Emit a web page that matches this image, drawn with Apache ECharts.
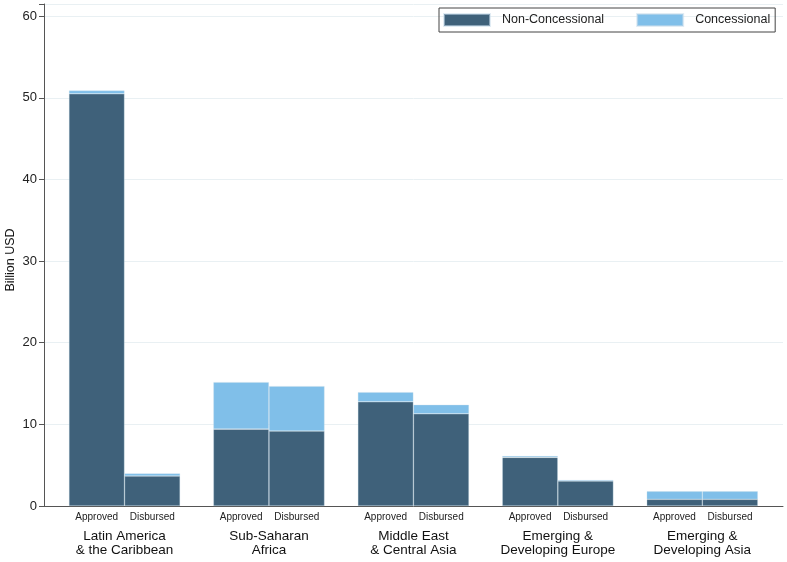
<!DOCTYPE html>
<html>
<head>
<meta charset="utf-8">
<script src="https://cdn.jsdelivr.net/npm/echarts@6/dist/echarts.min.js"></script>
<style>html,body{margin:0;padding:0;background:#fff;}#c{width:787px;height:562px;}</style>
</head>
<body>
<div id="c"></div>
<script>
const regions = ['Latin America\n& the Caribbean', 'Sub-Saharan\nAfrica', 'Middle East\n& Central Asia', 'Emerging &\nDeveloping Europe', 'Emerging &\nDeveloping Asia'];
const approvedNonConc = [50.5, 9.42, 12.77, 5.96, 0.82];
const approvedConc = [0.4, 5.76, 1.18, 0.16, 0.98];
const disbursedNonConc = [3.67, 9.18, 11.3, 3.06, 0.82];
const disbursedConc = [0.33, 5.51, 1.1, 0.12, 0.98];
const subLabels = ['Approved', 'Disbursed'];
const yTicks = { min: 0, max: 61.5, interval: 10 };

const DARK = '#3f617a';
const LIGHT = '#80bfe9';
const FONT = 'Liberation Sans, Arial, sans-serif';

const chart = echarts.init(document.getElementById('c'), null, { renderer: 'canvas' });
const barStyle = c => ({ color: c, borderColor: 'rgba(200,220,235,0.55)', borderWidth: 0.6 });

chart.setOption({
  animation: false,
  textStyle: { fontFamily: FONT },
  legend: {
    data: ['Non-Concessional', 'Concessional'],
    left: 439, top: 8, width: 420,
    orient: 'horizontal',
    padding: [5, 5, 5, 4],
    borderColor: '#444', borderWidth: 1,
    itemWidth: 46, itemHeight: 12, itemGap: 32,
    icon: 'rect',
    textStyle: { fontSize: 12.5, color: '#222', fontFamily: FONT, padding: [0, 0, 0, 7] }
  },
  grid: [
    { left: 44, right: 4, top: 4, bottom: 56, outerBoundsMode: 'none', containLabel: false },
    { left: 52.3, right: 12.5, top: 4, bottom: 56, outerBoundsMode: 'none', containLabel: false }
  ],
  xAxis: [
    { type: 'category', gridIndex: 0, data: [''], axisLine: { lineStyle: { color: '#555', width: 1 } },
      axisTick: { show: false }, axisLabel: { show: false }, splitLine: { show: false } },
    { type: 'category', gridIndex: 1, data: regions,
      axisLine: { show: false }, axisTick: { show: false },
      axisLabel: {
        interval: 0, margin: 0, color: '#111',
        formatter: v => {
          const parts = v.split('\n');
          return '{s|' + subLabels[0] + '}{s|' + subLabels[1] + '}\n' + parts.map(p => '{g|' + p + '}').join('\n');
        },
        rich: {
          s: { width: 55.6, align: 'center', fontSize: 10, lineHeight: 23, color: '#222', fontFamily: FONT },
          g: { fontSize: 13.5, lineHeight: 14, color: '#111', fontFamily: FONT, align: 'center' }
        }
      } }
  ],
  yAxis: [
    { type: 'value', gridIndex: 0, min: yTicks.min, max: yTicks.max, interval: yTicks.interval,
      name: 'Billion USD', nameLocation: 'middle', nameGap: 27, nameRotate: 90, nameMoveOverlap: false,
      nameTextStyle: { fontSize: 12.5, color: '#111', fontFamily: FONT, padding: [0, 10, 0, 0] },
      axisLine: { show: true, lineStyle: { color: '#555', width: 1 } },
      axisTick: { show: true, length: 5, lineStyle: { color: '#555' } },
      axisLabel: { fontSize: 13, color: '#222', margin: 7, fontFamily: FONT,
        formatter: v => (v % 10 === 0 ? String(v) : '') },
      splitLine: { show: true, lineStyle: { color: '#e9f0f3', width: 1 } } },
    { type: 'value', gridIndex: 1, min: yTicks.min, max: yTicks.max, interval: yTicks.interval, show: false,
      splitLine: { show: false } }
  ],
  series: [
    { name: 'Non-Concessional', type: 'bar', xAxisIndex: 1, yAxisIndex: 1, stack: 'A', data: approvedNonConc,
      barWidth: 55.6, barGap: '0%', itemStyle: barStyle(DARK) },
    { name: 'Concessional', type: 'bar', xAxisIndex: 1, yAxisIndex: 1, stack: 'A', data: approvedConc,
      barWidth: 55.6, barGap: '0%', itemStyle: barStyle(LIGHT) },
    { name: 'Non-Concessional', type: 'bar', xAxisIndex: 1, yAxisIndex: 1, stack: 'D', data: disbursedNonConc,
      barWidth: 55.6, barGap: '0%', itemStyle: barStyle(DARK) },
    { name: 'Concessional', type: 'bar', xAxisIndex: 1, yAxisIndex: 1, stack: 'D', data: disbursedConc,
      barWidth: 55.6, barGap: '0%', itemStyle: barStyle(LIGHT) }
  ]
});
</script>
</body>
</html>
